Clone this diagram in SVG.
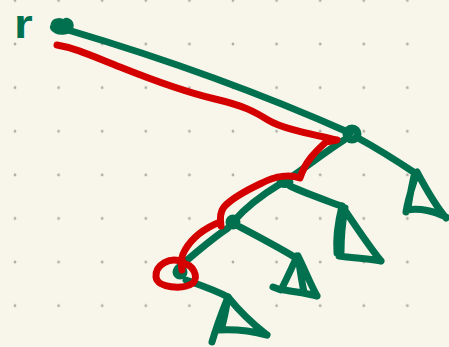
<svg xmlns="http://www.w3.org/2000/svg" width="449" height="347" viewBox="0 0 449 347">
<style>
.g{fill:none;stroke:#00704f;stroke-width:7;stroke-linecap:round;stroke-linejoin:round}
.gf{fill:#00704f;stroke:#00704f;stroke-width:5;stroke-linejoin:round}
.r{fill:none;stroke:#d40000;stroke-width:7;stroke-linecap:round;stroke-linejoin:round}
.lbl{font-family:"Liberation Sans",Arial,sans-serif;font-weight:bold;font-size:40px;fill:#00704f}
</style>
<defs>
<pattern id="dots" x="-6.8" y="-21.3" width="43.6" height="43.6" patternUnits="userSpaceOnUse">
<circle cx="21.8" cy="21.8" r="1.4" fill="#aeada5"/>
</pattern>
</defs>
<rect width="449" height="347" fill="#f8f6ea"/>
<rect width="449" height="347" fill="url(#dots)"/>
<g id="label-r">
<text class="lbl" x="14" y="38" transform="translate(14 38) scale(1.2 1) translate(-14 -38)">r</text>
</g>
<g id="connectors">
<path class="g" d="M68,30 Q220,75 350,133"/>
<path class="g" d="M344,140 C325,152 305,168 287,180"/>
<path class="g" d="M358,138 C380,150 400,163 415,173"/>
<path class="g" d="M280,184 C262,195 245,208 234,221"/>
<path class="g" d="M290,186 C305,193 325,200 341,206"/>
<path class="g" d="M228,228 C210,240 193,255 178,268"/>
<path class="g" d="M238,226 C257,236 278,247 296,258"/>
<path class="g" d="M186,280 C200,285 215,290 228,297"/>
</g>
<g id="node-root">
<path class="gf" d="M53,25 C54,19 62,20 63,23 C66,18 72,21 71,27 C70,33 60,33 56,31 C52,29 52,27 53,25 Z"/>
</g>
<g id="node-a">
<circle class="g" cx="352" cy="134" r="5.5" style="stroke-width:8"/>
</g>
<g id="node-b">
<ellipse class="gf" cx="285" cy="182" rx="6" ry="3.5"/>
</g>
<g id="node-c">
<circle class="gf" cx="233" cy="222" r="5"/>
</g>
<g id="node-d">
<circle class="gf" cx="180" cy="272" r="5"/>
</g>
<g id="subtree-1">
<path class="g" d="M417,172 C413,185 408,198 406,212 M417,172 C425,187 435,205 446,218 M407,210 C420,208 435,211 446,217 M414,176 C411,190 409,200 408,208"/>
</g>
<g id="subtree-2">
<path class="g" d="M342,206 C338,222 336,240 337,253 M345,208 C342,225 341,240 341,252 M342,206 C355,225 368,245 381,261 M339,256 C355,258 368,259 381,261"/>
</g>
<g id="subtree-3">
<path class="g" d="M297,256 C292,268 286,280 281,290 L273,287 M298,256 C300,270 302,283 304,292 M298,256 C305,270 310,283 317,296 M284,290 C295,292 306,293 317,296"/>
</g>
<g id="subtree-4">
<path class="g" d="M228,297 C222,312 216,328 212,342 M228,297 C226,310 224,320 221,330 M228,297 C240,312 254,325 267,335 M218,330 C235,329 252,331 267,335"/>
</g>
<g id="path-highlight">
<path class="r" d="M57,45 C75,48 90,55 120,67 S185,92 215,99 S255,112 268,120 S305,133 337,140 L326,142 C315,152 305,162 300,178 C290,174 275,176 262,183 C245,191 230,200 224,207 C220,212 220,220 221,226 M220,222 C205,228 192,238 185,250 C180,258 181,265 182,270"/>
<path class="r" d="M183,262 C170,256 155,265 156,277 C157,288 183,290 193,283 C199,277 193,264 183,264"/>
</g>
</svg>
